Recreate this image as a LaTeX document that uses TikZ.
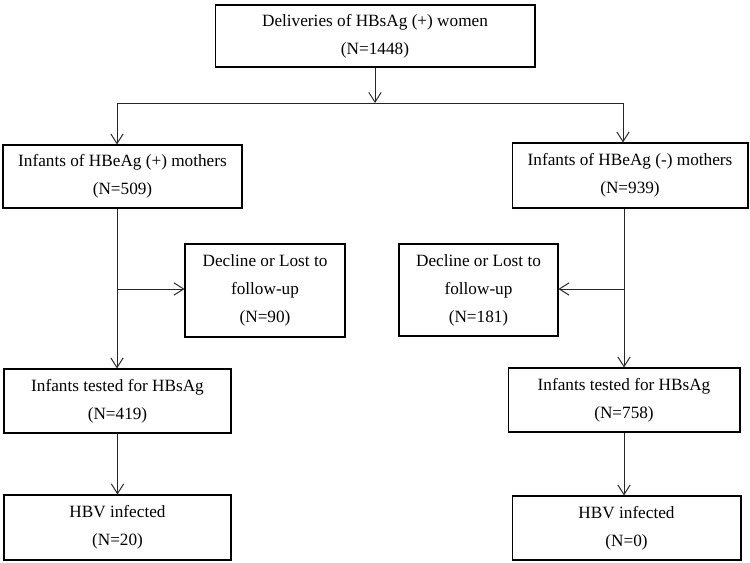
\documentclass[tikz,border=0pt]{standalone}
\usepackage{fontspec}
\setmainfont{Liberation Serif}
\usetikzlibrary{arrows.meta}

\begin{document}
\begin{tikzpicture}[x=0.02cm,y=-0.02cm,
    box/.style={draw, line width=0.6pt, align=center, inner sep=2pt,
      font=\fontsize{9.8}{16}\selectfont},
    arr/.style={draw=black!85, line width=0.55pt, -{Straight Barb[length=5.5pt,width=7pt]}},
    ln/.style={draw=black!85, line width=0.55pt}]
      \useasboundingbox (0,0) rectangle (750,563);
      % boxes
      \node[box, minimum width=6.4cm, minimum height=1.24cm] (top) at (375,36) {Deliveries of HBsAg (+) women\\(N=1448)};
      \node[box, minimum width=4.78cm, minimum height=1.26cm] (hbeP) at (122.5,176.5) {Infants of HBeAg (+) mothers\\(N=509)};
      \node[box, minimum width=4.72cm, minimum height=1.3cm] (hbeN) at (630,175.5) {Infants of HBeAg (-) mothers\\(N=939)};
      \node[box, minimum width=3.2cm, minimum height=1.86cm] (lostP) at (265,290.5) {Decline or Lost to\\follow-up\\(N=90)};
      \node[box, minimum width=3.18cm, minimum height=1.84cm] (lostN) at (478.5,290) {Decline or Lost to\\follow-up\\(N=181)};
      \node[box, minimum width=4.54cm, minimum height=1.28cm] (testP) at (117.5,401) {Infants tested for HBsAg\\(N=419)};
      \node[box, minimum width=4.64cm, minimum height=1.28cm] (testN) at (624,400) {Infants tested for HBsAg\\(N=758)};
      \node[box, minimum width=4.54cm, minimum height=1.3cm] (infP) at (117.5,527.5) {HBV infected\\(N=20)};
      \node[box, minimum width=4.58cm, minimum height=1.28cm] (infN) at (626.5,528) {HBV infected\\(N=0)};
      % split
      \coordinate (split) at (375,103);
      \coordinate (splitL) at (117,103);
      \coordinate (splitR) at (623,103);
      \draw[arr] (top.south) -- (split);
      \draw[ln] (splitL) -- (splitR);
      \draw[arr] (splitL) -- (splitL |- hbeP.north);
      \draw[arr] (splitR) -- (splitR |- hbeN.north);
      % left branch
      \coordinate (brP) at (117,289);
      \draw[arr] (brP |- hbeP.south) -- (brP |- testP.north);
      \draw[arr] (brP) -- (brP -| lostP.west);
      \draw[arr] (testP.south) -- (infP.north);
      % right branch
      \coordinate (brN) at (624,289);
      \draw[arr] (brN |- hbeN.south) -- (brN |- testN.north);
      \draw[arr] (brN) -- (brN -| lostN.east);
      \draw[arr] (testN.south) -- (testN.south |- infN.north);
    \end{tikzpicture}
\end{document}
